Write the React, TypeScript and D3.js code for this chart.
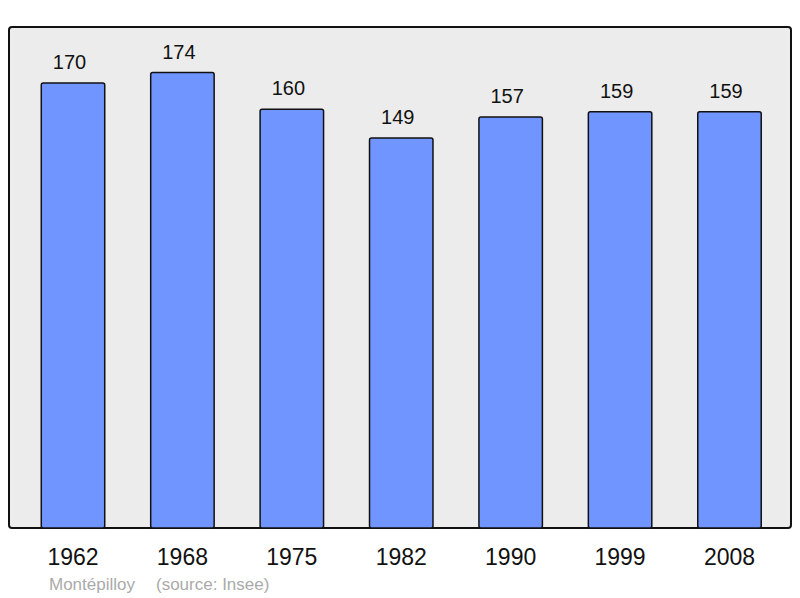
import React from "react";
import * as d3 from "d3";

const years = ["1962", "1968", "1975", "1982", "1990", "1999", "2008"];
const population = [170, 174, 160, 149, 157, 159, 159];
const commune = "Montépilloy";
const source = "(source: Insee)";

export default function App() {
  const W = 800, H = 598;
  const frame = { x0: 9, y0: 27, x1: 791, y1: 528 };
  const x = d3.scaleBand<string>().domain(years).range([18.3, 784.2]).paddingInner(0.42).paddingOuter(0.21);
  const y = d3.scaleLinear().domain([0, d3.max(population)! * 1.1]).range([frame.y1, frame.y0]);
  const font = "'Liberation Sans', Arial, sans-serif";
  return (
    <svg width={W} height={H} style={{ position: "absolute", left: 0, top: 0 }}>
      <rect x={0} y={0} width={W} height={H} fill="#fff" />
      <rect x={frame.x0} y={frame.y0} width={frame.x1 - frame.x0} height={frame.y1 - frame.y0} rx={3} fill="#ececec" stroke="#111" strokeWidth={2} />
      {years.map((yr, i) => (
        <g key={yr}>
          <rect x={x(yr)} y={y(population[i])} width={x.bandwidth()} height={frame.y1 - y(population[i])} rx={2} fill="#7095ff" stroke="#111" strokeWidth={1.5} />
          <text x={x(yr)! + x.bandwidth() / 2 - 3.5} y={y(population[i]) - 14} textAnchor="middle" fontFamily={font} fontSize={20} fill="#111">{population[i]}</text>
          <text x={x(yr)! + x.bandwidth() / 2} y={565} textAnchor="middle" fontFamily={font} fontSize={23} fill="#111">{yr}</text>
        </g>
      ))}
      <text x={49} y={590} fontFamily={font} fontSize={17} fill="#aaa">{commune}</text>
      <text x={156} y={590} fontFamily={font} fontSize={17} fill="#aaa">{source}</text>
    </svg>
  );
}
